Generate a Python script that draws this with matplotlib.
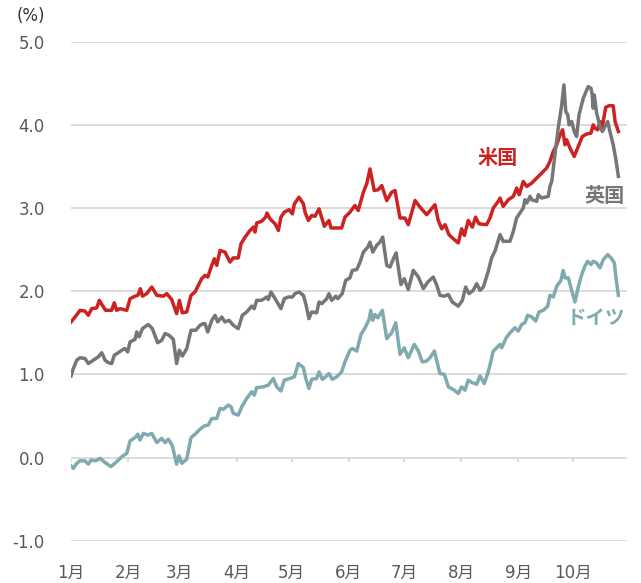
import pandas as pd
import matplotlib
matplotlib.use("Agg")
import matplotlib.pyplot as plt
import matplotlib.dates as mdates

plt.rcParams['font.family'] = ['DejaVu Sans', 'Noto Sans CJK JP']

# days since 2022-01-01 and 10y yields (%)
us_days = [0, 2.2, 4.9, 7.6, 9.4, 11.2, 14, 15.4, 17, 18.8, 22.1, 23.5, 24.8, 26.6, 30.3, 32.1, 34.8, 36.3,
           37.7, 38.8, 41.1, 43.9, 46.6, 50.2, 52, 54.7, 57.4, 58.9, 60.5, 62.9, 65.2, 67.4, 71, 72.8, 74.3,
           76.5, 77.9, 79.2, 81, 83.7, 86.4, 88.2, 90.9, 92.4, 94.6, 97.3, 99.1, 100, 100.9, 103.6, 105.8,
           106.5, 108.2, 110.9, 112.7, 114.1, 115.9, 118.5, 120.3, 121.4, 123.9, 126.3, 127.2, 129, 130.8,
           132.6, 134.8, 137.7, 140.2, 141.3, 147.1, 148.9, 151.6, 154.3, 156.1, 158.9, 160.7, 162.5, 164.8,
           167, 168.9, 171.6, 174.3, 176.1, 178.8, 181.5, 183.3, 187, 189.7, 193.3, 197.8, 199.6, 201.5,
           203.3, 205.4, 207.8, 210.5, 212.3, 213.8, 215.9, 218.1, 219.9, 221.7, 225.9, 227.7, 229.5, 232.2,
           233.2, 234.9, 237.7, 240.4, 242.2, 243.6, 245.8, 247.7, 250.4, 254, 256.7, 258.5, 260.3, 262.1,
           264, 265.8, 267.2, 268.5, 269.4, 271.2, 273.5, 276.1, 277.9, 280.3, 282.6, 283.8, 284.8, 286.3,
           287.5, 288.8, 290.6, 292.4, 294.7, 295.7, 297.5]
us_vals = [1.63, 1.69, 1.77, 1.76, 1.71, 1.79, 1.80, 1.89, 1.83, 1.77, 1.77, 1.86, 1.77, 1.79, 1.77, 1.91, 1.94, 1.95,
           2.03, 1.94, 1.97, 2.05, 1.95, 1.94, 1.97, 1.90, 1.73, 1.89, 1.74, 1.75, 1.95, 1.99, 2.15, 2.19, 2.17,
           2.31, 2.39, 2.31, 2.49, 2.47, 2.35, 2.40, 2.40, 2.57, 2.65, 2.73, 2.77, 2.71, 2.82, 2.84, 2.89,
           2.94, 2.87, 2.81, 2.73, 2.89, 2.95, 2.98, 2.93, 3.05, 3.13, 3.05, 2.95, 2.85, 2.91,
           2.90, 2.99, 2.78, 2.85, 2.76, 2.76, 2.89, 2.95, 3.03, 2.97, 3.19, 3.29, 3.47, 3.21,
           3.22, 3.27, 3.09, 3.19, 3.21, 2.88, 2.88, 2.80, 3.09, 3.01, 2.92, 3.04, 2.85, 2.75,
           2.80, 2.68, 2.63, 2.58, 2.75, 2.67, 2.85, 2.77, 2.89, 2.81, 2.80, 2.88, 3.00, 3.08,
           3.12, 3.02, 3.10, 3.14, 3.24, 3.16, 3.32, 3.26, 3.30, 3.38, 3.44, 3.48, 3.56, 3.68,
           3.76, 3.88, 3.94, 3.76, 3.82, 3.72, 3.62, 3.76, 3.86, 3.89, 3.90, 4.00, 3.96, 3.94,
           4.04, 3.98, 4.21, 4.23, 4.23, 4.04, 3.92]

uk_days = [0, 1.25, 3.1, 4.9, 7.6, 9.4, 12.1, 14.8, 16.7, 18.5, 20.3, 22.1, 23.5, 25.7, 27.6, 29.3, 30.8, 32.1,
           34.8, 35.7, 37, 38.8, 42, 44.2, 47.1, 49.3, 51.1, 53.3, 55.6, 57.4, 58.9, 60.5, 62.9, 65.2, 67.8,
           70.1, 71.9, 72.8, 74.3, 76.5, 78.3, 79.7, 81.9, 83.7, 85.9, 88.2, 90.9, 93.1, 95.5, 98.2, 99.6,
           100.9, 103.6, 106.4, 107.2, 108.7, 110.9, 114.1, 115.9, 118.1, 120.3, 121.7, 123.9, 126.3, 127.6,
           129.3, 130.8, 133.5, 134.8, 136.3, 139, 140.2, 141.7, 143.9, 145, 147.4, 149.3, 151.6, 152.9,
           155.3, 157.1, 158.9, 161.3, 162.5, 164, 166.1, 167.9, 169.4, 171.6, 173.4, 175.2, 176.7, 179.3,
           181.1, 183.3, 186, 188.8, 191.5, 193.9, 196.9, 198.8, 200.5, 202.9, 205.1, 207.2, 210.5, 212.7,
           214.5, 216.3, 218.6, 220.5, 222.3, 224.1, 226.8, 228.6, 230.4, 233.2, 234.9, 238.6, 240.4, 242.2,
           244, 245.8, 246.7, 247.7, 249.5, 250.4, 253.1, 254, 255.8, 257.6, 259.4, 260.3, 261.3, 263,
           264.8, 266.7, 267.9, 268.9, 270, 270.7, 272.1, 273.5, 274.8, 276.1, 278.4, 281.1, 282.6, 283.3,
           283.8, 284.4, 285.7, 287.5, 288.8, 290.2, 291.7, 292.9, 294.7, 296, 297.5]
uk_vals = [0.98, 1.07, 1.17, 1.20, 1.19, 1.13, 1.17, 1.21, 1.26, 1.17, 1.14, 1.13, 1.23, 1.26, 1.29, 1.31, 1.27, 1.39,
           1.42, 1.51, 1.45, 1.55, 1.60, 1.55, 1.38, 1.41, 1.49, 1.47, 1.42, 1.13, 1.29, 1.22, 1.31, 1.53, 1.53,
           1.59, 1.61, 1.61, 1.51, 1.65, 1.71, 1.63, 1.69, 1.63, 1.65, 1.59, 1.55, 1.71, 1.75, 1.82, 1.79,
           1.89, 1.89, 1.93, 1.90, 1.99, 1.91, 1.79, 1.91, 1.93, 1.93, 1.97, 1.99, 1.95, 1.85,
           1.67, 1.75, 1.74, 1.87, 1.85, 1.91, 1.97, 1.89, 1.94, 1.91, 1.97, 2.13, 2.16, 2.25,
           2.26, 2.35, 2.47, 2.53, 2.59, 2.47, 2.55, 2.59, 2.65, 2.31, 2.29, 2.39, 2.46, 2.08,
           2.15, 2.02, 2.25, 2.17, 2.03, 2.11, 2.17, 2.07, 1.95, 1.94, 1.96, 1.87, 1.82, 1.89,
           2.05, 1.97, 2.01, 2.09, 2.01, 2.05, 2.24, 2.40, 2.48, 2.68, 2.60, 2.60, 2.72, 2.88,
           2.94, 3.00, 3.10, 3.06, 3.14, 3.10, 3.08, 3.16, 3.12, 3.13, 3.14, 3.26, 3.32, 3.64,
           3.96, 4.24, 4.48, 4.16, 4.12, 4.00, 4.04, 3.92, 3.86, 4.12, 4.32, 4.46, 4.44, 4.36,
           4.20, 4.36, 4.14, 3.98, 3.92, 3.98, 4.04, 3.92, 3.76, 3.60, 3.38]

de_days = [0, 1.25, 3.1, 4.9, 7.6, 9.4, 10.9, 13.4, 15.8, 18.5, 21.7, 24.8, 27.6, 30.3, 32.1, 34.8, 36.3, 37.5,
           39.3, 41.7, 43.9, 46.6, 49.3, 51.1, 52.9, 55.1, 57.4, 58.7, 60.2, 62.9, 65.2, 67.4, 70.1, 72.4,
           74.6, 76.5, 79.2, 81, 82.8, 85.5, 87, 88.2, 90.9, 92.8, 95.5, 98.2, 99.6, 100.9, 104.5, 107.2,
           109.9, 111.8, 114.1, 115.9, 119, 121.4, 123.5, 126.3, 127.6, 129.3, 130.8, 133.5, 134.8, 136.6,
           138.4, 140.2, 142, 144.4, 147.1, 148.9, 151.6, 152.9, 155.3, 157.6, 159.8, 162, 162.9, 164,
           165.2, 166.7, 169.2, 171.6, 174.3, 176.5, 178.8, 181.1, 183.3, 186.6, 188.8, 190.9, 193.3, 195.1,
           197.5, 200.5, 202.9, 205.1, 208.3, 210.5, 212.3, 214.1, 215.9, 218.1, 220.5, 222.3, 224.6, 226.5,
           227.7, 229.5, 231.4, 233.2, 234.1, 236.3, 238.6, 241.3, 243.1, 244.9, 246.7, 248.2, 250.4, 252.6,
           254.3, 256.7, 259.1, 260.3, 262.1, 264, 266.3, 267.5, 268.5, 270.3, 272.1, 273.9, 275.7, 277.6,
           279.3, 280.8, 282.6, 283.8, 285.7, 287.5, 289.3, 291.7, 293.5, 295.3, 296.2, 297.5]
de_vals = [-0.10, -0.13, -0.07, -0.04, -0.04, -0.08, -0.03, -0.04, -0.01, -0.06, -0.11, -0.05, 0.01, 0.05, 0.20, 0.24,
           0.28, 0.21, 0.29, 0.27, 0.29, 0.18, 0.23, 0.18, 0.22, 0.14, -0.08, 0.02, -0.07, -0.02, 0.24, 0.28,
           0.34, 0.38, 0.39, 0.47, 0.47, 0.59, 0.58, 0.63, 0.61, 0.53, 0.51, 0.61, 0.71, 0.79, 0.75, 0.84,
           0.85, 0.87, 0.95, 0.85, 0.80, 0.93, 0.95, 0.97, 1.13, 1.08, 0.95, 0.83, 0.94, 0.95, 1.03, 0.94,
           0.97, 1.01, 0.94, 0.97, 1.03, 1.15, 1.29, 1.31, 1.28, 1.48, 1.56, 1.66, 1.77, 1.65,
           1.72, 1.68, 1.77, 1.43, 1.50, 1.62, 1.24, 1.32, 1.20, 1.36, 1.28, 1.15, 1.16, 1.20,
           1.28, 1.01, 1.00, 0.85, 0.81, 0.77, 0.85, 0.81, 0.93, 0.90, 0.88, 0.98, 0.89, 1.01,
           1.11, 1.28, 1.32, 1.36, 1.32, 1.43, 1.50, 1.56, 1.52, 1.60, 1.62, 1.71, 1.69, 1.64,
           1.75, 1.77, 1.82, 1.95, 1.93, 2.06, 2.13, 2.25, 2.16, 2.16, 2.01, 1.87, 2.05, 2.20,
           2.30, 2.36, 2.32, 2.36, 2.34, 2.28, 2.38, 2.44, 2.40, 2.34, 2.16, 1.95]

month_labels = ["1月", "2月", "3月", "4月", "5月", "6月", "7月", "8月", "9月", "10月"]
y_ticks = [-1.0, 0.0, 1.0, 2.0, 3.0, 4.0, 5.0]

base = pd.Timestamp("2022-01-01")
def to_dates(days):
    return base + pd.to_timedelta(days, unit="D")

red = "#cc2222"
gray = "#767676"
teal = "#7eaab0"
label_gray = "#595959"

fig = plt.figure(figsize=(6.41, 5.83), dpi=100)
ax = fig.add_axes([0.1108, 0.0726, 0.8674, 0.8559])

ax.plot(to_dates(us_days), us_vals, color=red, lw=2.5, solid_joinstyle="round", zorder=3)
ax.plot(to_dates(uk_days), uk_vals, color=gray, lw=2.5, solid_joinstyle="round", zorder=3)
ax.plot(to_dates(de_days), de_vals, color=teal, lw=2.5, solid_joinstyle="round", zorder=3)

ax.set_ylim(-1.0, 5.0)
ax.set_xlim(base, base + pd.Timedelta(days=302.2))
ax.set_yticks(y_ticks)
ax.set_yticklabels([f"{v:.1f}" for v in y_ticks])
ax.yaxis.grid(True, color="#d9d9d9", lw=1.3)
ax.set_axisbelow(True)

month_starts = pd.date_range("2022-01-01", periods=len(month_labels), freq="MS")
ax.set_xticks(month_starts)
ax.set_xticklabels(month_labels)
# small tick marks hanging from the zero line
ax.vlines(month_starts, -0.055, 0, color="#d9d9d9", lw=1.3, zorder=1)

for s in ax.spines.values():
    s.set_visible(False)
ax.tick_params(axis="y", length=0, pad=19, labelsize=12, labelcolor=label_gray)
ax.tick_params(axis="x", length=0, pad=17, labelsize=12, labelcolor=label_gray)

fig.text(0.026, 0.972, "(%)", fontsize=12, color="#333333", va="center", ha="left")

lab_font = ['Noto Sans CJK JP']
ax.text(base + pd.Timedelta(days=232), 3.61, "米国", color=red, fontsize=14.5, fontweight="bold",
        ha="center", va="center", family=lab_font)
ax.text(base + pd.Timedelta(days=301), 3.155, "英国", color=gray, fontsize=14.5, fontweight="bold",
        ha="right", va="center", family=lab_font)
ax.text(base + pd.Timedelta(days=301), 1.667, "ドイツ", color=teal, fontsize=14, fontweight="bold",
        ha="right", va="center", family=lab_font)

fig.savefig("out.png", dpi=100)
